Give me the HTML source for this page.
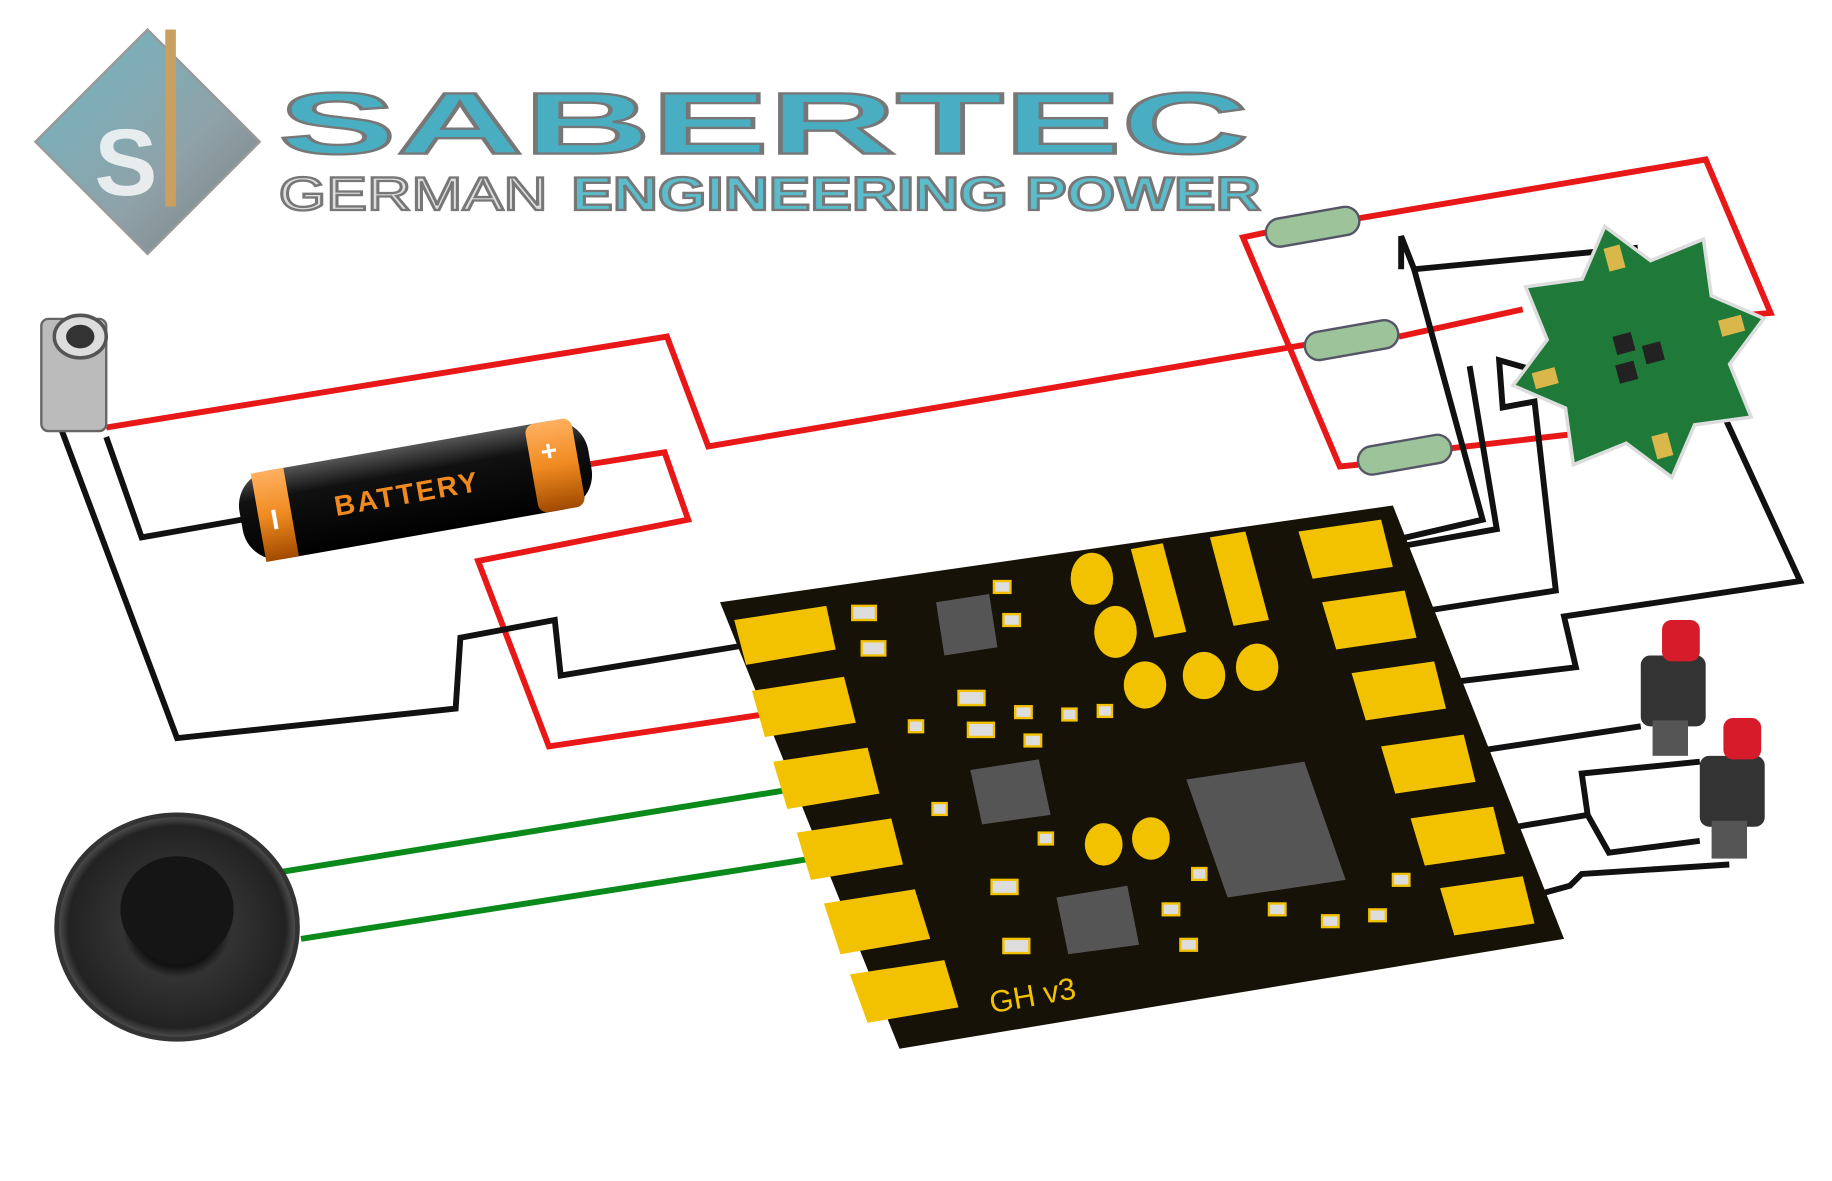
<!DOCTYPE html>
<html><head><meta charset="utf-8"><style>html,body{margin:0;padding:0;background:#fff}svg{display:block}</style></head>
<body>
<svg width="1832" height="1181" viewBox="0 0 1552 1000" preserveAspectRatio="none" xmlns="http://www.w3.org/2000/svg">
<defs>
<linearGradient id="bat" x1="0" y1="0" x2="0" y2="1"><stop offset="0" stop-color="#555"/><stop offset="0.3" stop-color="#111"/><stop offset="1" stop-color="#000"/></linearGradient>
<linearGradient id="org" x1="0" y1="0" x2="0" y2="1"><stop offset="0" stop-color="#ffb060"/><stop offset="0.5" stop-color="#f08a20"/><stop offset="1" stop-color="#a04a00"/></linearGradient>
<radialGradient id="spk" cx="0.5" cy="0.5" r="0.5"><stop offset="0" stop-color="#444"/><stop offset="0.35" stop-color="#111"/><stop offset="0.45" stop-color="#333"/><stop offset="0.9" stop-color="#222"/><stop offset="1" stop-color="#555"/></radialGradient>
<linearGradient id="logo" x1="0" y1="0" x2="1" y2="1"><stop offset="0" stop-color="#6fb6c4"/><stop offset="0.6" stop-color="#8fa2a8"/><stop offset="1" stop-color="#7a7f82"/></linearGradient>
</defs>
<!-- logo -->
<polygon points="125,25 220,120 125,215 30,120" fill="url(#logo)" stroke="#999" stroke-width="2"/>
<rect x="140" y="25" width="9" height="150" fill="#c9a060"/>
<text x="80" y="165" font-family="Liberation Sans, sans-serif" font-size="80" font-weight="bold" fill="#fff" opacity="0.8">S</text>
<text x="236" y="130" font-family="Liberation Sans, sans-serif" font-size="74" font-weight="bold" fill="#4aaec2" stroke="#777" stroke-width="2" textLength="822" lengthAdjust="spacingAndGlyphs">SABERTEC</text>
<text x="236" y="178" font-family="Liberation Sans, sans-serif" font-size="40" fill="#ddd" stroke="#777" stroke-width="2" textLength="228" lengthAdjust="spacingAndGlyphs">GERMAN</text>
<text x="484" y="178" font-family="Liberation Sans, sans-serif" font-size="40" font-weight="bold" fill="#5bbccc" stroke="#777" stroke-width="2" textLength="584" lengthAdjust="spacingAndGlyphs">ENGINEERING POWER</text>

<!-- wires -->
<g fill="none" stroke-width="5" stroke-linejoin="miter">
<polyline stroke="#e81818" points="90,362 565,285 600,378 1105,292"/>
<polyline stroke="#e81818" points="500,393 563,383 583,440 405,475 465,632 700,597"/>
<polyline stroke="#e81818" points="1150,185 1445,135 1500,265 1465,268"/>
<polyline stroke="#e81818" points="1072,197 1053,201 1135,395 1155,393"/>
<polyline stroke="#e81818" points="1185,285 1290,262"/>
<polyline stroke="#e81818" points="1225,380 1355,365"/>
<polyline stroke="#111" points="45,345 150,625 386,600 390,540 470,525 475,572 670,540"/>
<polyline stroke="#111" points="90,370 120,455 205,440"/>
<polyline stroke="#111" points="1187,228 1187,200 1198,228 1385,210 1388,235"/>
<polyline stroke="#111" points="1198,228 1256,440 1170,460"/>
<polyline stroke="#111" points="1305,315 1270,305 1273,345 1300,340 1318,500 1190,520"/>
<polyline stroke="#111" points="1245,310 1268,448 1190,462"/>
<polyline stroke="#111" points="1455,340 1525,492 1325,522 1335,565 1210,580"/>
<polyline stroke="#111" points="1225,640 1390,615"/>
<polyline stroke="#111" points="1255,705 1345,690 1340,655 1440,645"/>
<polyline stroke="#111" points="1345,690 1363,722 1440,712"/>
<polyline stroke="#111" points="1275,765 1330,750 1340,740 1465,732"/>
<polyline stroke="#0a8a1a" points="240,738 722,660"/>
<polyline stroke="#0a8a1a" points="255,795 745,718"/>
</g>

<!-- jack -->
<rect x="35" y="270" width="55" height="95" rx="6" fill="#bbb" stroke="#666" stroke-width="2"/>
<ellipse cx="68" cy="285" rx="22" ry="18" fill="#ddd" stroke="#555" stroke-width="3"/>
<ellipse cx="68" cy="285" rx="12" ry="10" fill="#333"/>

<!-- battery -->
<g transform="translate(352,415) rotate(-10)">
<rect x="-150" y="-38" width="300" height="76" rx="30" fill="url(#bat)"/>
<rect x="-135" y="-38" width="28" height="76" fill="url(#org)"/>
<rect x="100" y="-38" width="40" height="76" rx="8" fill="url(#org)"/>
<text x="-70" y="10" font-family="Liberation Sans, sans-serif" font-size="24" font-weight="bold" fill="#f08a20" letter-spacing="2">BATTERY</text>
<text x="110" y="-5" font-family="Liberation Sans, sans-serif" font-size="24" font-weight="bold" fill="#fff">+</text>
<text x="-125" y="12" font-family="Liberation Sans, sans-serif" font-size="24" font-weight="bold" fill="#fff">I</text>
</g>

<!-- resistors -->
<g fill="#9cc39a" stroke="#556" stroke-width="2">
<rect x="1072" y="180" width="80" height="24" rx="12" transform="rotate(-10 1112 192)"/>
<rect x="1105" y="276" width="80" height="24" rx="12" transform="rotate(-10 1145 288)"/>
<rect x="1150" y="373" width="80" height="24" rx="12" transform="rotate(-10 1190 385)"/>
</g>

<!-- LED star -->
<g transform="translate(1388,298) rotate(-15)">
<polygon points="0,-110 30,-72 78,-78 72,-30 110,0 72,30 78,78 30,72 0,110 -30,72 -78,78 -72,30 -110,0 -72,-30 -78,-78 -30,-72" fill="#1f7a3a" stroke="#ddd" stroke-width="3"/>
<rect x="-6" y="-92" width="14" height="20" fill="#d9b74a"/><rect x="72" y="-8" width="20" height="14" fill="#d9b74a"/>
<rect x="-8" y="72" width="14" height="20" fill="#d9b74a"/><rect x="-92" y="-6" width="20" height="14" fill="#d9b74a"/>
<rect x="-18" y="-18" width="16" height="16" fill="#222"/><rect x="4" y="-4" width="16" height="16" fill="#222"/><rect x="-22" y="6" width="16" height="16" fill="#222"/>
</g>

<!-- PCB -->
<polygon points="610,510 1180,428 1325,795 762,888" fill="#161208"/>
<g fill="#f2c200">
<polygon points="622,525 700,513 708,550 632,563"/>
<polygon points="637,585 715,573 725,612 648,624"/>
<polygon points="655,645 735,633 745,672 667,685"/>
<polygon points="675,705 755,693 765,732 687,745"/>
<polygon points="698,765 775,753 788,795 712,808"/>
<polygon points="720,825 800,813 812,853 735,866"/>
<polygon points="1100,450 1170,440 1180,480 1112,490"/>
<polygon points="1120,510 1190,500 1200,540 1132,550"/>
<polygon points="1145,570 1215,560 1225,600 1157,610"/>
<polygon points="1170,632 1240,622 1250,662 1182,672"/>
<polygon points="1195,693 1265,683 1275,723 1207,733"/>
<polygon points="1220,752 1290,742 1300,782 1232,792"/>
<polygon points="958,465 985,460 1005,535 978,540"/>
<polygon points="1025,455 1055,450 1075,525 1045,530"/>
<ellipse cx="925" cy="490" rx="18" ry="22"/><ellipse cx="945" cy="535" rx="18" ry="22"/>
<ellipse cx="970" cy="580" rx="18" ry="20"/><ellipse cx="1020" cy="572" rx="18" ry="20"/><ellipse cx="1065" cy="565" rx="18" ry="20"/>
<ellipse cx="935" cy="715" rx="16" ry="18"/><ellipse cx="975" cy="710" rx="16" ry="18"/>
</g>
<g fill="#555">
<polygon points="1005,660 1105,645 1140,745 1040,760"/>
<polygon points="793,510 838,503 845,548 800,555"/>
<polygon points="822,652 880,643 890,690 832,698"/>
<polygon points="895,760 955,750 965,800 905,808"/>
</g>
<g fill="#ddd" stroke="#f2c200" stroke-width="2">
<rect x="722" y="513" width="20" height="12"/><rect x="730" y="543" width="20" height="12"/>
<rect x="842" y="492" width="14" height="10"/><rect x="850" y="520" width="14" height="10"/>
<rect x="812" y="585" width="22" height="12"/><rect x="820" y="612" width="22" height="12"/>
<rect x="860" y="598" width="14" height="10"/><rect x="868" y="622" width="14" height="10"/>
<rect x="900" y="600" width="12" height="10"/><rect x="930" y="597" width="12" height="10"/>
<rect x="770" y="610" width="12" height="10"/><rect x="790" y="680" width="12" height="10"/>
<rect x="840" y="745" width="22" height="12"/><rect x="850" y="795" width="22" height="12"/>
<rect x="985" y="765" width="14" height="10"/><rect x="1000" y="795" width="14" height="10"/>
<rect x="1075" y="765" width="14" height="10"/><rect x="1120" y="775" width="14" height="10"/>
<rect x="1160" y="770" width="14" height="10"/><rect x="1180" y="740" width="14" height="10"/>
<rect x="880" y="705" width="12" height="10"/><rect x="1010" y="735" width="12" height="10"/>
</g>
<text x="840" y="858" font-family="Liberation Sans, sans-serif" font-size="26" fill="#f2c200" transform="rotate(-10 840 858)">GH v3</text>

<!-- speaker -->
<ellipse cx="150" cy="785" rx="102" ry="95" fill="url(#spk)" stroke="#333" stroke-width="4"/>
<ellipse cx="150" cy="770" rx="48" ry="45" fill="#151515"/>

<!-- buttons -->
<g>
<rect x="1390" y="555" width="55" height="60" rx="8" fill="#333"/>
<rect x="1400" y="610" width="30" height="30" fill="#555"/>
<rect x="1408" y="525" width="32" height="35" rx="8" fill="#d61c2a"/>
<rect x="1440" y="640" width="55" height="60" rx="8" fill="#333"/>
<rect x="1450" y="695" width="30" height="32" fill="#555"/>
<rect x="1460" y="608" width="32" height="35" rx="8" fill="#d61c2a"/>
</g>
</svg>
</body></html>
